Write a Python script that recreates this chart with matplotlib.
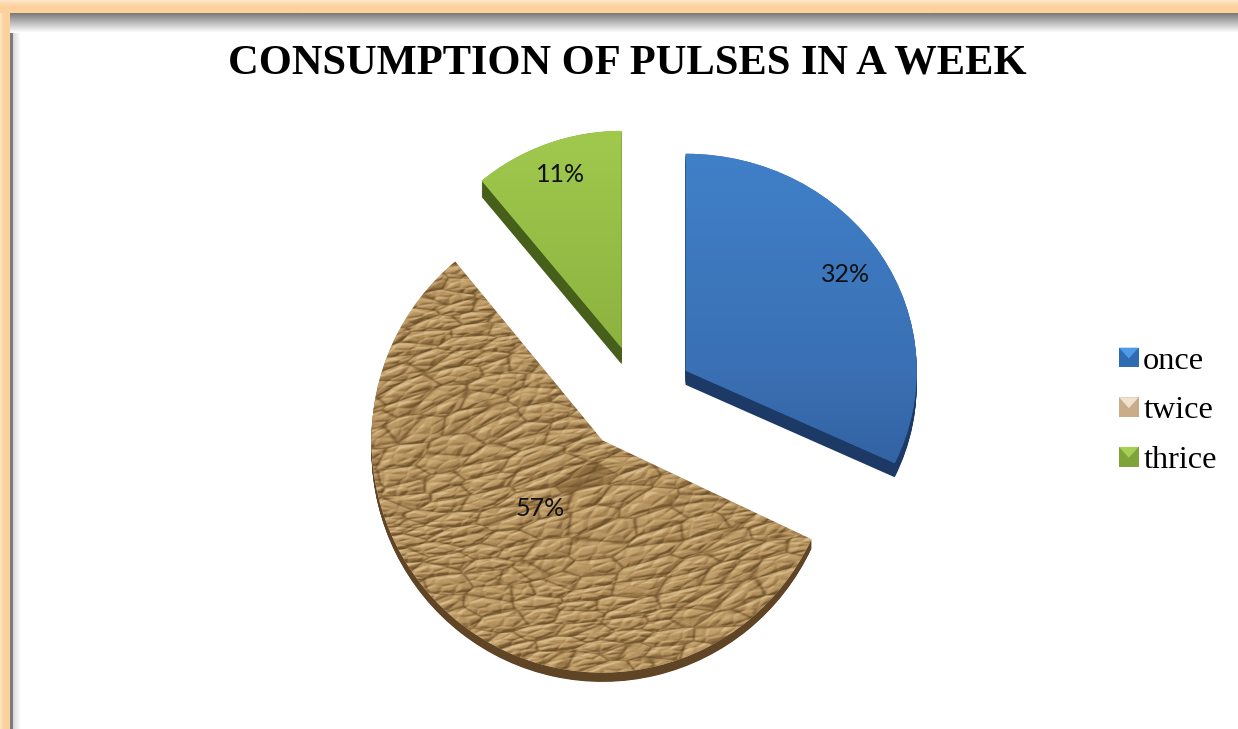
import numpy as np
import matplotlib
matplotlib.use('Agg')
import matplotlib.pyplot as plt
from matplotlib.colors import LinearSegmentedColormap
from matplotlib.legend_handler import HandlerPatch
from matplotlib.patches import Patch, Polygon, Rectangle
from matplotlib.transforms import Affine2D

# values
categories = ['once', 'twice', 'thrice']
shares = [32, 57, 11]
title = 'CONSUMPTION OF PULSES IN A WEEK'

W, H = 1238, 729
RX, RY = 231, 217        # pie radii in pixels
PIE_CX, PIE_CY = 635, 401  # pie centre in pixels from top left
explode = [0.26, 0.23, 0.26]
label_dist_x = [0.82, 0.44, 0.78]
label_dist_y = [0.83, 0.37, 0.85]
stretch_x = [1.0, 1.0, 0.95]
stretch_y = [1.0, 1.07, 1.0]
nudge_x = [0.0, 0.0, 0.03]
depth = [0.065, 0.04, 0.075]
side_colors = ['#1d3a66', '#5f4526', '#46601c']
swatch_colors = ['#2f6bb0', '#c9ad8b', '#7fa43a']
swatch_light = ['#4f9ae6', '#f0e2cf', '#a8cf55']

fig = plt.figure(figsize=(W / 100, H / 100), dpi=100, facecolor='white')


def cell_hash(cx, cy, s):
    v = np.sin(cx * 127.1 + cy * 311.7 + s * 74.7) * 43758.5453
    return v - np.floor(v)


def facets(x, y):
    # distance to nearest and second nearest jittered cell point
    ix, iy = np.floor(x), np.floor(y)
    f1 = np.full(x.shape, 9.0)
    f2 = np.full(x.shape, 9.0)
    for dx in (-1, 0, 1):
        for dy in (-1, 0, 1):
            cx, cy = ix + dx, iy + dy
            d = np.hypot(x - cx - cell_hash(cx, cy, 1), y - cy - cell_hash(cx, cy, 2))
            f2 = np.where(d < f1, f1, np.minimum(f2, d))
            f1 = np.minimum(f1, d)
    return f1, f2


def paper_texture(x, y):
    # crumpled paper: flat facets with sharp creases, lit from the top left
    warp = 0.6 * np.sin(3.1 * x + 5.3 * y) + 0.4 * np.sin(7.7 * y - 4.3 * x + 1.0)
    u = x * 0.98 + y * 0.2 + 0.05 * warp
    v = y * 0.98 - x * 0.2 + 0.04 * warp
    a1, a2 = facets(u * 5.5, v * 15)
    b1, b2 = facets(u * 13 + 3.7, v * 29 + 1.3)
    ridge = np.minimum(a2 - a1, 0.5) + 0.45 * np.minimum(b2 - b1, 0.5)
    gy, gx = np.gradient(ridge)
    light = gx + gy
    lo, hi = np.percentile(light, [3, 97])
    tone = 0.15 + 0.75 * np.clip((light - lo) / (hi - lo), 0, 1)
    # dark crease lines
    return np.clip(tone * np.minimum(1, 0.4 + 5 * (a2 - a1)), 0, 1)


def slice_transform(i, wedge, d=0.0):
    # per-slice adjustment around the slice's own tip
    cx, cy = wedge.center
    cy = cy + d
    t = (Affine2D().translate(-cx, -cy).scale(stretch_x[i], stretch_y[i])
         .translate(cx + nudge_x[i], cy))
    return t + ax.transData


# orange page frame with a grey inner shadow
bg = fig.add_axes([0, 0, 1, 1], zorder=0)
bg.axis('off')
frame = LinearSegmentedColormap.from_list('frame', ['#fee6c8', '#fdd19b'])
bg.imshow(np.clip(np.linspace(0, 2, 13), 0, 1)[:, None], extent=(0, W, 13, 0), cmap=frame, aspect='auto')
bg.imshow(np.clip(np.linspace(0, 3, 10), 0, 1)[None, :], extent=(0, 10, H, 13), cmap=frame, aspect='auto')
grey = LinearSegmentedColormap.from_list('shade', ['#7c7c7c', '#ffffff'])
bg.imshow(np.linspace(0, 1, 20)[:, None], extent=(10, W, 33, 13), cmap=grey, aspect='auto', zorder=2)
bg.imshow(np.r_[0.1, 0.1, 0.1, np.linspace(0.75, 1, 8)][None, :], extent=(10, 21, H, 13), cmap=grey,
          aspect='auto', zorder=1)
bg.set_xlim(0, W)
bg.set_ylim(H, 0)

bg.text(627.5, 63.5, title, family='Liberation Serif', weight='bold', fontsize=30.65,
        ha='center', va='center', color='black', zorder=5)

# pie axes: limits are stretched so the unit circle comes out as an ellipse
ax = fig.add_axes([0, 0, 1, 1], zorder=2)
ax.patch.set_alpha(0)

# stacked dark copies give the slices their thickness
for i in range(3):
    for d in np.linspace(depth[i], 0.005, 16):
        side, _ = ax.pie(shares, explode=explode, startangle=90, counterclock=False,
                         center=(0, -d), colors=side_colors)
        for j, w in enumerate(side):
            if j != i:
                w.set_visible(False)
            else:
                w.set_transform(slice_transform(i, w, d))
                w.set_zorder(1)

wedges, _, pcts = ax.pie(shares, explode=explode, startangle=90, counterclock=False,
                         colors=swatch_colors, autopct='%1.0f%%',
                         textprops=dict(family='Lato', fontsize=18, color='#111111'))

ax.set_aspect('auto')
extent = (-1.6, 1.6, -1.6, 1.6)
xx, yy = np.meshgrid(np.linspace(-1.6, 1.6, 1100), np.linspace(1.6, -1.6, 1100))
fills = [
    LinearSegmentedColormap.from_list('b', ['#4080c8', '#3a70b4', '#28528c']),
    LinearSegmentedColormap.from_list('t', ['#4f3819', '#8a6a3e', '#b4915f', '#c9a974', '#e2c99c']),
    LinearSegmentedColormap.from_list('g', ['#a0c94e', '#8db33f', '#6f8f32']),
]
for i, w in enumerate(wedges):
    cx, cy = w.center
    w.set_transform(slice_transform(i, w))
    w.set_zorder(3)
    if i == 1:
        tone = paper_texture(xx, yy)
    else:
        tone = np.clip((1 - (yy - cy)) / 2, 0, 1)
    im = ax.imshow(tone, extent=extent, cmap=fills[i], aspect='auto', zorder=4, vmin=0, vmax=1)
    im.set_clip_path(w)
    # label position along the slice's middle direction
    mid = np.radians((w.theta1 + w.theta2) / 2)
    pcts[i].set_position((cx + nudge_x[i] + label_dist_x[i] * np.cos(mid),
                          cy + label_dist_y[i] * stretch_y[i] * np.sin(mid)))
    pcts[i].set_zorder(6)

# limits that put the unit circle at RX, RY pixels around the pie centre
ax.set_xlim(-PIE_CX / RX, (W - PIE_CX) / RX)
ax.set_ylim(-(H - PIE_CY) / RY, PIE_CY / RY)


class BevelHandler(HandlerPatch):
    # square swatch with a lighter top facet
    def create_artists(self, legend, orig, xd, yd, width, height, fontsize, trans):
        x0, y0 = -xd, -yd
        s = height
        base = Rectangle((x0, y0), s, s, facecolor=orig.get_facecolor(), lw=0, transform=trans)
        top = Polygon([(x0, y0 + s), (x0 + s, y0 + s), (x0 + s * 0.5, y0 + s * 0.45)],
                      facecolor=orig.get_edgecolor(), lw=0, transform=trans)
        return [base, top]


handles = [Patch(facecolor=c, edgecolor=l) for c, l in zip(swatch_colors, swatch_light)]
leg = fig.legend(handles, categories, loc='center left', bbox_to_anchor=(1119 / W, 1 - 411 / H),
                 bbox_transform=fig.transFigure, frameon=False, borderpad=0, borderaxespad=0,
                 prop=dict(family='Liberation Serif', size=23.2), labelspacing=0.64,
                 handlelength=0.5, handleheight=0.56, handletextpad=0.25,
                 handler_map={Patch: BevelHandler()})
leg.set_zorder(10)

fig.savefig('out.png', dpi=100)
